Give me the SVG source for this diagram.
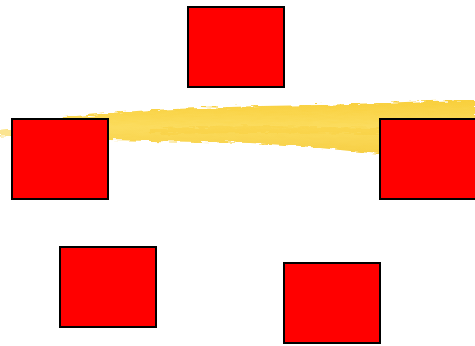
<svg xmlns="http://www.w3.org/2000/svg" width="475" height="346" viewBox="0 0 475 346">
<style>
.box{fill:#ff0000;stroke:#000;stroke-width:2}
</style>
<defs>
<linearGradient id="brush" x1="0" y1="0" x2="0" y2="1">
<stop offset="0" stop-color="#f8cc30"/>
<stop offset="0.5" stop-color="#fbda55"/>
<stop offset="1" stop-color="#f6cc3a"/>
</linearGradient>
<filter id="rough" x="-5%" y="-30%" width="110%" height="160%">
<feTurbulence type="fractalNoise" baseFrequency="0.08 0.5" numOctaves="2" seed="3" result="n"/>
<feDisplacementMap in="SourceGraphic" in2="n" scale="7"/>
</filter>
</defs>
<rect width="475" height="346" fill="#fff"/>
<g id="brush-stroke" filter="url(#rough)">
<path d="M0,131 L30,128 L65,117 L110,113 L150,110 L200,108 L260,106 L320,105 L380,103 L430,101 L475,100 L475,150 L420,152 L380,154 L340,150 L300,146 L250,143 L200,142 L150,141 L110,140 L60,139 L20,137 L0,136 Z" fill="url(#brush)" opacity="0.95"/>
<path d="M0,131 L60,128 L0,137 Z" fill="#fbe7a0" opacity="0.8"/>
<path d="M150,128 L260,126 L380,128 L470,122 L470,130 L380,134 L260,133 L150,134 Z" fill="#f5c832" opacity="0.35"/>
</g>
<g id="node-top"><rect class="box" x="188" y="7" width="96" height="80"/></g>
<g id="node-left"><rect class="box" x="12" y="119" width="96" height="80"/></g>
<g id="node-right"><rect class="box" x="380" y="119" width="100" height="80"/></g>
<g id="node-bottom-left"><rect class="box" x="60" y="247" width="96" height="80"/></g>
<g id="node-bottom-right"><rect class="box" x="284" y="263" width="96" height="80"/></g>
<g id="connectors"></g>
</svg>
